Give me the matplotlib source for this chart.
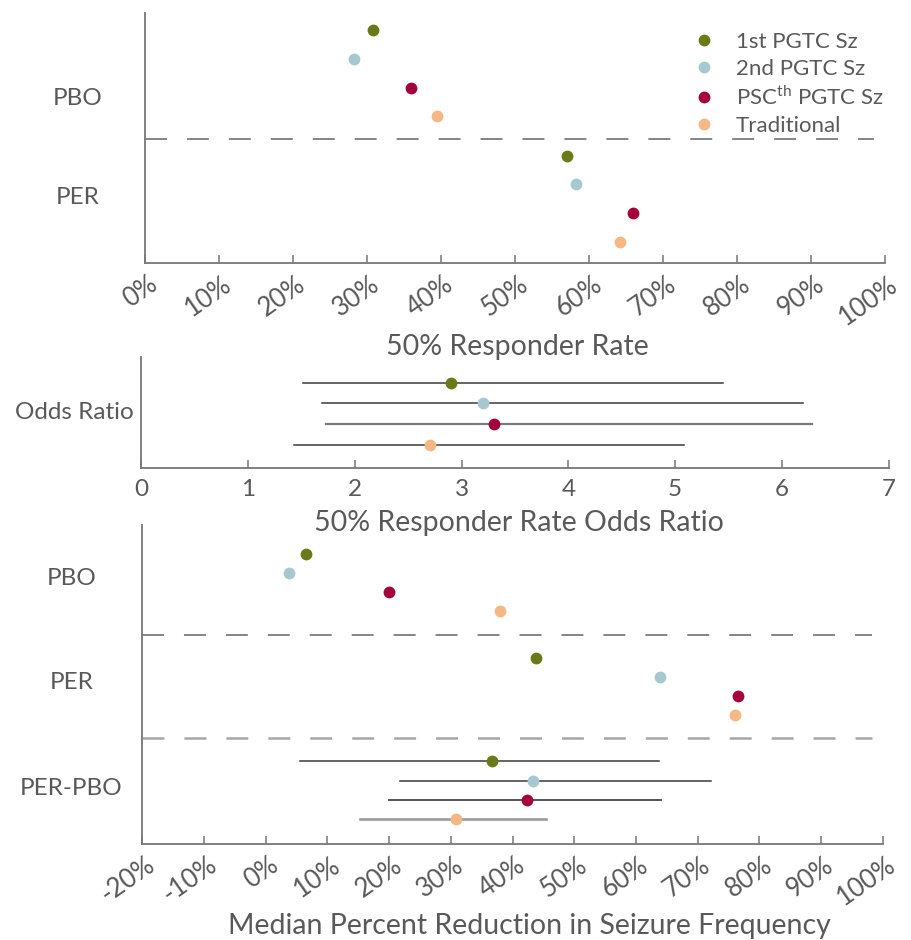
import matplotlib
matplotlib.use("Agg")
import matplotlib.pyplot as plt
import matplotlib.transforms as mtransforms
from matplotlib.lines import Line2D

# series shown in every panel
series = ["1st PGTC Sz", "2nd PGTC Sz", "PSC$^{\\mathregular{th}}$ PGTC Sz", "Traditional"]
colors = ["#6b7a18", "#a6c8d0", "#a6003a", "#f5b784"]

# 50% responder rate (%)
resp_pbo = [30.8, 28.2, 35.9, 39.5]
resp_per = [57.0, 58.3, 65.9, 64.2]

# responder rate odds ratio with CI
odds = [2.90, 3.20, 3.30, 2.70]
odds_lo = [1.51, 1.69, 1.73, 1.43]
odds_hi = [5.45, 6.20, 6.28, 5.08]

# median percent reduction in seizure frequency (%)
red_pbo = [6.6, 3.7, 20.0, 38.0]
red_per = [43.8, 63.9, 76.6, 76.0]
red_diff = [36.6, 43.3, 42.4, 30.8]
diff_lo = [5.5, 21.8, 20.0, 15.3]
diff_hi = [63.7, 72.1, 64.0, 45.5]

pct_ticks = list(range(0, 101, 10))
pct_ticks_b = list(range(-20, 101, 10))
odds_ticks = list(range(0, 8))

TXT = "#595959"
SPINE = "#767676"
plt.rcParams["font.family"] = ["Lato", "DejaVu Sans"]
plt.rcParams["mathtext.fontset"] = "custom"
plt.rcParams["mathtext.rm"] = "Lato"

fig = plt.figure(figsize=(9.12, 9.4), dpi=100)
W, H = 912.0, 940.0
MS = 8.5


def axes_px(left, top, right, bottom):
    return fig.add_axes([left / W, 1 - bottom / H, (right - left) / W, (bottom - top) / H])


def style(ax):
    for s in ["top", "right"]:
        ax.spines[s].set_visible(False)
    for s in ["left", "bottom"]:
        ax.spines[s].set_color(SPINE)
        ax.spines[s].set_linewidth(1.3)
    ax.tick_params(axis="x", direction="in", length=6, width=1.1, color=SPINE,
                   labelcolor=TXT, labelsize=18.5)
    ax.tick_params(axis="y", length=0, labelcolor=TXT, labelsize=17.5)


def rotate_labels(ax):
    off = mtransforms.ScaledTranslation(3 / 100, 0, fig.dpi_scale_trans)
    for lab in ax.get_xticklabels():
        lab.set_rotation(35)
        lab.set_ha("right")
        lab.set_va("top")
        lab.set_rotation_mode("anchor")
        lab.set_transform(lab.get_transform() + off)


def dots(ax, xs, ys):
    for x, y, c in zip(xs, ys, colors):
        ax.plot(x, y, "o", color=c, markersize=MS, markeredgewidth=0, zorder=3)


def dashed(ax, y, color, lw):
    # dash pattern is scaled by linewidth, keep ~22px dash / 20px gap
    ax.axhline(y, xmax=0.985, color=color, lw=lw, dashes=(15.8 / lw, 14.4 / lw))


# ---------- top: 50% responder rate ----------
ax1 = axes_px(144.7, 12.5, 885.3, 263.3)
style(ax1)
rows = [0, 1, 2, 3]
dots(ax1, resp_pbo, rows)
dots(ax1, resp_per, [r + 4.38 for r in rows])
dashed(ax1, 3.78, "#6f6f6f", 1.2)
ax1.set_xlim(0, 100)
ax1.set_ylim(8.13, -0.62)
ax1.set_xticks(pct_ticks)
ax1.set_xticklabels([f"{t}%" for t in pct_ticks])
ax1.tick_params(axis="x", pad=6)
rotate_labels(ax1)
ax1.set_yticks([2.3, 5.78])
ax1.set_yticklabels(["PBO", "PER"], ha="center")
ax1.tick_params(axis="y", pad=48)

handles = [Line2D([], [], marker="o", ls="none", color=c, markersize=MS, markeredgewidth=0)
           for c in colors]
ax1.legend(handles, series, loc="upper left", bbox_to_anchor=(695 / W, 1 - 32 / H),
           bbox_transform=fig.transFigure, frameon=False, fontsize=16,
           labelcolor=TXT, handlelength=0.8, handletextpad=1.05, labelspacing=0.3,
           borderpad=0, borderaxespad=0)

fig.text(517 / W, 1 - 347 / H, "50% Responder Rate", ha="center", va="center",
         color=TXT, fontsize=20.5)

# ---------- middle: odds ratio ----------
ax2 = axes_px(141.3, 356.5, 888.7, 468.3)
style(ax2)
for i, (lo, hi) in enumerate(zip(odds_lo, odds_hi)):
    ax2.plot([lo, hi], [i, i], color="#3a3a3a" if i != 2 else "#7a7a7a",
             lw=1.1 if i != 2 else 1.6, zorder=2)
dots(ax2, odds, rows)
ax2.set_xlim(0, 7)
ax2.set_ylim(4.13, -1.27)
ax2.set_xticks(odds_ticks)
ax2.tick_params(axis="x", pad=8, labelsize=17.5)
ax2.set_yticks([1.33])
ax2.set_yticklabels(["Odds Ratio"], ha="center")
ax2.tick_params(axis="y", pad=48)

fig.text(519 / W, 1 - 523 / H, "50% Responder Rate Odds Ratio", ha="center", va="center",
         color=TXT, fontsize=20.5)

# ---------- bottom: median percent reduction ----------
ax3 = axes_px(142.3, 525, 882.7, 844)
style(ax3)
dots(ax3, red_pbo, rows)
dots(ax3, red_per, [r + 5.4 for r in rows])
diff_rows = [r + 10.8 for r in rows]
line_cols = ["#3a3a3a", "#3a3a3a", "#555555", "#9a9a9a"]
line_w = [1.1, 1.1, 1.4, 1.9]
for y, lo, hi, lc, lw in zip(diff_rows, diff_lo, diff_hi, line_cols, line_w):
    ax3.plot([lo, hi], [y, y], color=lc, lw=lw, zorder=2)
dots(ax3, red_diff, diff_rows)
dashed(ax3, 4.2, "#6f6f6f", 1.2)
dashed(ax3, 9.6, "#a6a6a6", 1.8)
ax3.set_xlim(-20, 100)
ax3.set_ylim(15.1, -1.5)
ax3.set_xticks(pct_ticks_b)
ax3.set_xticklabels([f"{t}%" for t in pct_ticks_b])
ax3.tick_params(axis="x", pad=6)
rotate_labels(ax3)
ax3.set_yticks([1.18, 6.57, 12.1])
ax3.set_yticklabels(["PBO", "PER", "PER-PBO"], ha="center")
ax3.tick_params(axis="y", pad=51)

fig.text(529 / W, 1 - 926 / H, "Median Percent Reduction in Seizure Frequency",
         ha="center", va="center", color=TXT, fontsize=20.5)

fig.savefig("out.png", dpi=100)
